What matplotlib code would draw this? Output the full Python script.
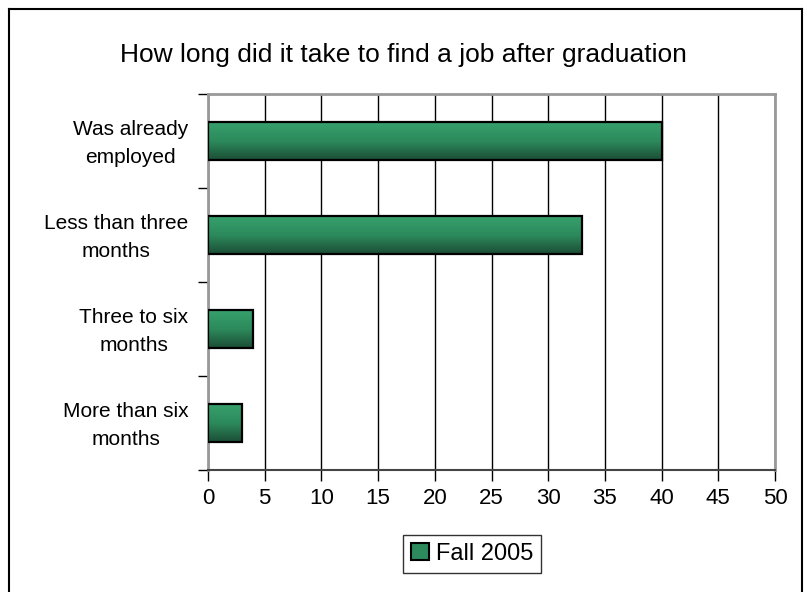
import numpy as np
import matplotlib.pyplot as plt
import matplotlib.transforms as mtransforms
from matplotlib.colors import LinearSegmentedColormap
from matplotlib.lines import Line2D
from matplotlib.patches import Patch

plt.rcParams['font.family'] = ['Liberation Sans', 'DejaVu Sans']

# datos
categorias = ['Was already\nemployed', 'Less than three\nmonths',
              'Three to six\nmonths', 'More than six\nmonths']
valores = [40, 33, 4, 3]
serie = 'Fall 2005'
titulo = 'How long did it take to find a job after graduation'

fig = plt.figure(figsize=(8.07, 5.92), dpi=100)
ax = fig.add_axes([208 / 807, 1 - 470 / 592, (775 - 208) / 807, (470 - 94) / 592])

pos = np.arange(len(categorias))
barras = ax.barh(pos, valores, height=0.4, facecolor='none',
                 edgecolor='black', linewidth=1.6, zorder=4)

# degradado vertical en cada barra
cmap = LinearSegmentedColormap.from_list('verde', ['#36a06c', '#2c8a5c', '#1c4e36'])
grad = np.linspace(0, 1, 100).reshape(-1, 1)
for b in barras:
    x0, y0 = b.get_x(), b.get_y()
    im = ax.imshow(grad, cmap=cmap, aspect='auto', zorder=3,
                   extent=(x0, x0 + b.get_width(), y0 + b.get_height(), y0),
                   origin='upper')
    im.set_clip_path(b)

ax.set_xlim(0, 50)
ax.set_ylim(3.5, -0.5)
ax.set_xticks(range(0, 51, 5))
ax.grid(axis='x', color='black', linewidth=1, zorder=1)
ax.set_axisbelow(True)

ax.set_yticks(pos)
ax.set_yticklabels(categorias, multialignment='center', fontsize=15, linespacing=1.6)
ax.tick_params(axis='y', length=0, pad=14)
ax.set_yticks(np.arange(-0.5, 4, 1), minor=True)
ax.tick_params(axis='y', which='minor', length=7, width=1, color='black')
ax.tick_params(axis='x', length=8, width=1, color='black', labelsize=16, pad=5)

# subir un poco las etiquetas de categoria
desplaza = mtransforms.ScaledTranslation(0, 4 / 100, fig.dpi_scale_trans)
for lab in ax.get_yticklabels():
    lab.set_transform(lab.get_transform() + desplaza)

for lado in ['top', 'right', 'left']:
    ax.spines[lado].set_color('#999999')
    ax.spines[lado].set_linewidth(2)
ax.spines['bottom'].set_color('#444444')
ax.spines['bottom'].set_linewidth(1.5)

fig.text(0.5, 1 - 55 / 592, titulo, ha='center', va='center', fontsize=19)

ax.legend(handles=[Patch(facecolor='#2c8a5c', edgecolor='black', linewidth=1.5, label=serie)],
          loc='center', bbox_to_anchor=(472 / 807, 1 - 554 / 592),
          bbox_transform=fig.transFigure, fontsize=17, frameon=True, fancybox=False,
          edgecolor='black', handlelength=0.75, handleheight=0.75, handletextpad=0.3,
          borderpad=0.35, borderaxespad=0)

# marco exterior
w, h = 807, 592
fig.add_artist(Line2D([9 / w, 9 / w], [0, 1 - 9 / h], color='black', linewidth=1.5))
fig.add_artist(Line2D([9 / w, 802 / w], [1 - 9 / h, 1 - 9 / h], color='black', linewidth=1.5))
fig.add_artist(Line2D([802 / w, 802 / w], [0, 1 - 9 / h], color='black', linewidth=1.5))

fig.savefig('out.png', dpi=100)
